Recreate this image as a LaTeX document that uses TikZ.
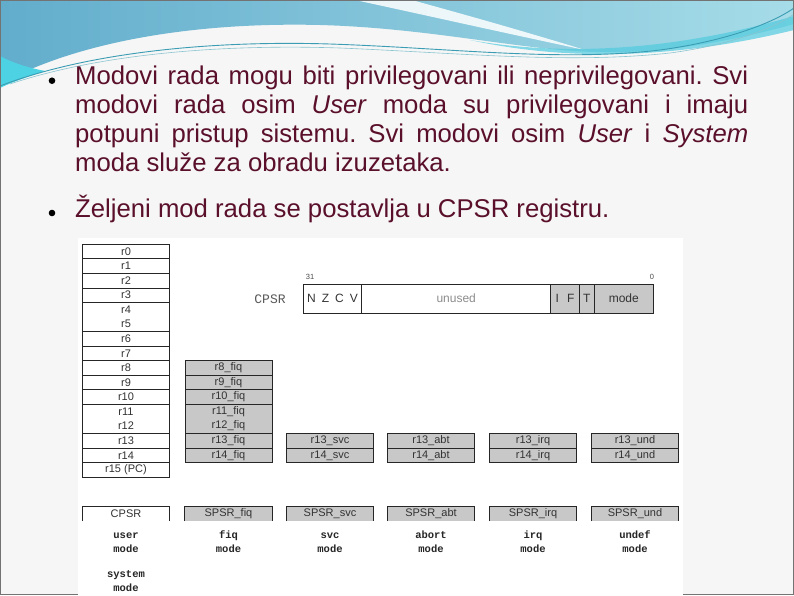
\documentclass[tikz,border=0pt]{standalone}
\usepackage{fontspec}
\setmainfont{Liberation Sans}
\newfontfamily\codefont{Liberation Mono}
\definecolor{slidetext}{HTML}{5A0F2A}
\definecolor{slidebg}{HTML}{F6F6F6}
\definecolor{waveleft}{HTML}{62ADCC}
\definecolor{waveright}{HTML}{A6DCE8}
\definecolor{wavecyan}{HTML}{4CD2E3}
\definecolor{waveline}{HTML}{3B9DB3}
\definecolor{bankgray}{HTML}{C8C8C8}
\frenchspacing

\begin{document}
\begin{tikzpicture}[x=1pt,y=-1pt,
    reg/.style={draw=black!85, line width=0.8pt, minimum width=87pt, minimum height=14.55pt,
      inner sep=0pt, align=center, text=black!80, font=\fontsize{11}{14.3}\selectfont},
    banked/.style={reg, fill=bankgray},
    tworows/.style={minimum height=29.1pt},
    bits/.style={draw=black!85, line width=0.8pt, minimum height=29.3pt, inner sep=0pt,
      text=black!80, font=\fontsize{12}{14}\selectfont},
    spsr/.style={minimum width=87pt, minimum height=14pt, inner sep=0pt, text=black!80,
      font=\fontsize{11}{13}\selectfont},
    modename/.style={align=center, inner sep=0pt, text=black!85,
      font=\codefont\bfseries\fontsize{10.5}{14}\selectfont},
    dot/.style={circle, fill=black, inner sep=0pt, minimum size=6.6pt}]
  \useasboundingbox (0,0) rectangle (794,595);

  % slide background and header wave
  \fill[slidebg] (0,0) rectangle (794,595);
  \shade[left color=waveleft, right color=waveright]
    (0,0) -- (794,0) -- (794,24) .. controls (730,42) and (660,54) .. (595,52)
    .. controls (520,50) and (430,28) .. (320,25) .. controls (200,22) and (80,40) .. (0,84) -- cycle;
  \fill[white, opacity=0.85] (355,0) .. controls (420,14) and (500,32) .. (585,50)
    .. controls (500,24) and (440,8) .. (412,0) -- cycle;
  \fill[wavecyan!80!waveleft, opacity=0.7] (470,40) .. controls (560,56) and (670,52) .. (794,16)
    -- (794,30) .. controls (680,58) and (570,62) .. (470,40) -- cycle;
  \fill[wavecyan] (0,56) .. controls (15,64) and (30,68) .. (45,71)
    .. controls (30,76) and (12,82) .. (0,88) -- cycle;
  \draw[waveline, line width=0.9pt] (0,86) .. controls (80,55) and (200,40) .. (330,44)
    .. controls (450,48) and (560,62) .. (660,50) .. controls (720,42) and (770,25) .. (794,8);
  \draw[waveline!60, line width=0.6pt] (10,84) .. controls (100,54) and (220,44) .. (340,48)
    .. controls (460,53) and (570,64) .. (670,53) .. controls (730,45) and (775,28) .. (794,14);
  \draw[black!55, line width=1.2pt] (0.6,0.6) rectangle (793.4,594.4);

  % bullet text
  \node[dot] (d1) at (52,80.7) {};
  \node[dot] (d2) at (52,213) {};
  \node[anchor=north west, inner sep=0pt, text width=673pt, align=justify, text=slidetext,
    font=\fontsize{25.7}{29}\selectfont] (p1) at (75,65.8)
    {\hyphenpenalty=10000 Modovi rada mogu biti privilegovani ili neprivilegovani. Svi\linebreak
     modovi rada osim \textit{User} moda su privilegovani i imaju\linebreak
     potpuni pristup sistemu. Svi modovi osim \textit{User} i \textit{System}\linebreak
     moda služe za obradu izuzetaka.};
  \node[anchor=base west, inner sep=0pt, text=slidetext, font=\fontsize{25.7}{29}\selectfont]
    (p2) at (75,217.5) {Željeni mod rada se postavlja u CPSR registru.};

  % register figure
  \fill[white] (78,238) rectangle (683,595);

  \node[reg] (r0) at (126,251.6) {r0};
  \node[reg] (r1) at (126,266.1) {r1};
  \node[reg] (r2) at (126,280.7) {r2};
  \node[reg] (r3) at (126,295.2) {r3};
  \node[reg, tworows] (r4) at (126,317.0) {r4\\r5};
  \node[reg] (r6) at (126,338.9) {r6};
  \node[reg] (r7) at (126,353.4) {r7};
  \node[reg] (r8) at (126,368.0) {r8};
  \node[reg] (r9) at (126,382.5) {r9};
  \node[reg] (r10) at (126,397.1) {r10};
  \node[reg, tworows] (r11) at (126,418.9) {r11\\r12};
  \node[reg] (r13) at (126,440.8) {r13};
  \node[reg] (r14) at (126,455.3) {r14};
  \node[reg] (r15) at (126,469.9) {r15 (PC)};

  \node[banked] (f8) at (228.5,368.0) {r8\_fiq};
  \node[banked] (f9) at (228.5,382.5) {r9\_fiq};
  \node[banked] (f10) at (228.5,397.1) {r10\_fiq};
  \node[banked, tworows] (f11) at (228.5,418.9) {r11\_fiq\\r12\_fiq};
  \node[banked] (f13) at (228.5,440.8) {r13\_fiq};
  \node[banked] (f14) at (228.5,455.3) {r14\_fiq};

  \node[banked] (s13) at (330,440.8) {r13\_svc};
  \node[banked] (s14) at (330,455.3) {r14\_svc};
  \node[banked] (a13) at (431,440.8) {r13\_abt};
  \node[banked] (a14) at (431,455.3) {r14\_abt};
  \node[banked] (i13) at (533,440.8) {r13\_irq};
  \node[banked] (i14) at (533,455.3) {r14\_irq};
  \node[banked] (u13) at (635,440.8) {r13\_und};
  \node[banked] (u14) at (635,455.3) {r14\_und};

  % CPSR bit layout
  \node[text=black!65, font=\codefont\fontsize{13}{15}\selectfont] (lcpsr) at (270,299) {CPSR};
  \node[bits, minimum width=58.4pt] (bnzcv) at (332.5,298.7)
    {N\hspace{6pt}Z\hspace{6pt}C\hspace{6pt}V};
  \node[bits, minimum width=189pt, text=black!45] (bunused) at (456.2,298.7) {unused};
  \node[bits, minimum width=28.6pt, fill=bankgray] (bif) at (565,298.7) {I\hspace{8pt}F};
  \node[bits, minimum width=15pt, fill=bankgray] (bt) at (586.8,298.7) {T};
  \node[bits, minimum width=59pt, fill=bankgray] (bmode) at (623.8,298.7) {mode};
  \node[text=black!70, inner sep=0pt, font=\fontsize{7.5}{9}\selectfont] (b31) at (310,276.5) {31};
  \node[text=black!70, inner sep=0pt, font=\fontsize{7.5}{9}\selectfont] (b0) at (652,276.5) {0};

  % status registers
  \node[spsr, fill=white] (cpsr) at (126,514) {CPSR};
  \node[spsr, fill=bankgray] (sfiq) at (228.5,514) {SPSR\_fiq};
  \node[spsr, fill=bankgray] (ssvc) at (330,514) {SPSR\_svc};
  \node[spsr, fill=bankgray] (sabt) at (431,514) {SPSR\_abt};
  \node[spsr, fill=bankgray] (sirq) at (533,514) {SPSR\_irq};
  \node[spsr, fill=bankgray] (sund) at (635,514) {SPSR\_und};
  \draw[black!85, line width=0.8pt] (cpsr.south west) -- (cpsr.north west) -- (cpsr.north east) -- (cpsr.south east);
  \draw[black!85, line width=0.8pt] (sfiq.south west) -- (sfiq.north west) -- (sfiq.north east) -- (sfiq.south east);
  \draw[black!85, line width=0.8pt] (ssvc.south west) -- (ssvc.north west) -- (ssvc.north east) -- (ssvc.south east);
  \draw[black!85, line width=0.8pt] (sabt.south west) -- (sabt.north west) -- (sabt.north east) -- (sabt.south east);
  \draw[black!85, line width=0.8pt] (sirq.south west) -- (sirq.north west) -- (sirq.north east) -- (sirq.south east);
  \draw[black!85, line width=0.8pt] (sund.south west) -- (sund.north west) -- (sund.north east) -- (sund.south east);

  % mode names
  \node[modename] (muser) at (126,543) {\strut user\\\strut mode};
  \node[modename] (mfiq) at (228.5,543) {\strut fiq\\\strut mode};
  \node[modename] (msvc) at (330,543) {\strut svc\\\strut mode};
  \node[modename] (mabt) at (431,543) {\strut abort\\\strut mode};
  \node[modename] (mirq) at (533,543) {\strut irq\\\strut mode};
  \node[modename] (mund) at (635,543) {\strut undef\\\strut mode};
  \node[modename] (msys) at (126,582) {\strut system\\\strut mode};
\end{tikzpicture}
\end{document}
